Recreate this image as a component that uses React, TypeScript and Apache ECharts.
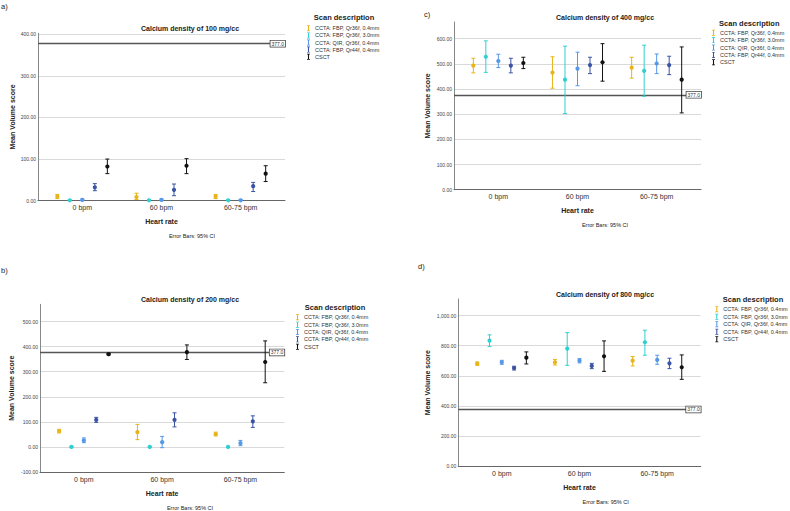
import React, { useEffect, useRef } from 'react';
import * as echarts from 'echarts';

// ---------- data ----------
const HEART_RATES = ['0 bpm', '60 bpm', '60-75 bpm'];
const SCANS = [
  'CCTA: FBP, Qr36f, 0.4mm',
  'CCTA: FBP, Qr36f, 3.0mm',
  'CCTA: QIR, Qr36f, 0.4mm',
  'CCTA: FBP, Qr44f, 0.4mm',
  'CSCT',
];
const SCAN_COLORS = ['#E8B418', '#2FD0CF', '#5598E7', '#3A53A4', '#111111'];
const REFERENCE_VOLUME = 377;

// rows = scans, columns = heart rates
const MEAN_100 = [[10, 9, 10], [1, 1, 1], [2, 2, 1], [32, 26, 35], [82, 84, 65]];
const LOW_100 = [[5, 3, 5], [0, 0, 0], [0, 0, 0], [24, 12, 22], [65, 65, 46]];
const HIGH_100 = [[15, 18, 15], [2, 2, 2], [4, 4, 3], [41, 40, 44], [100, 101, 84]];

const MEAN_200 = [[63, 59, 51], [0, 0, 0], [26, 19, 15], [108, 108, 102], [370, 378, 339]];
const LOW_200 = [[56, 29, 44], [-2, -2, -2], [17, -3, 5], [98, 80, 78], [367, 349, 256]];
const HIGH_200 = [[70, 90, 59], [2, 2, 2], [36, 42, 26], [118, 136, 124], [373, 407, 423]];

const MEAN_400 = [[493, 465, 485], [528, 437, 472], [511, 481, 501], [493, 495, 495], [503, 506, 437]];
const LOW_400 = [[464, 403, 443], [466, 302, 371], [485, 413, 461], [464, 461, 457], [481, 431, 305]];
const HIGH_400 = [[522, 528, 526], [591, 570, 574], [538, 546, 539], [522, 526, 530], [526, 580, 567]];

const MEAN_800 = [[681, 690, 701], [834, 781, 823], [690, 701, 706], [652, 666, 683], [721, 730, 657]];
const LOW_800 = [[670, 672, 666], [794, 670, 737], [677, 686, 677], [639, 648, 648], [679, 630, 577]];
const HIGH_800 = [[692, 708, 728], [872, 887, 903], [703, 714, 737], [664, 683, 717], [759, 832, 739]];

const Y_TICKS_100 = [0, 100, 200, 300, 400];
const Y_TICKS_200 = [-100, 0, 100, 200, 300, 400, 500];
const Y_TICKS_400 = [0, 100, 200, 300, 400, 500, 600];
const Y_TICKS_800 = [0, 200, 400, 600, 800, 1000];
const Y_MAX = [402, 569, 666, 1110];

// ---------- panels (layout) ----------
const PANELS = [
  {
    tag: 'a)', tagX: 1, tagY: 6, title: 'Calcium density of 100 mg/cc',
    mean: MEAN_100, low: LOW_100, high: HIGH_100, ticks: Y_TICKS_100, min: 0, max: Y_MAX[0],
    left: 38, top: 33.3, width: 247, height: 167.4,
    titleX: 190, titleY: 28.3, legendLeft: 307, legendTop: 25.3, legendGap: 1.1,
    legendTitleX: 344, legendTitleY: 17.3, noteX: 192, noteY: 236,
    yNameGap: 22.5, xNameGap: 17.5, labelMargin: 3,
  },
  {
    tag: 'c)', tagX: 424, tagY: 14, title: 'Calcium density of 400 mg/cc',
    mean: MEAN_400, low: LOW_400, high: HIGH_400, ticks: Y_TICKS_400, min: 0, max: Y_MAX[2],
    left: 454, top: 22, width: 247, height: 167.7,
    titleX: 605, titleY: 17.3, legendLeft: 712, legendTop: 29.7, legendGap: 1.4,
    legendTitleX: 749.3, legendTitleY: 23.3, noteX: 605, noteY: 225,
    yNameGap: 23, xNameGap: 17.5, labelMargin: 3,
  },
  {
    tag: 'b)', tagX: 1, tagY: 270, title: 'Calcium density of 200 mg/cc',
    mean: MEAN_200, low: LOW_200, high: HIGH_200, ticks: Y_TICKS_200, min: -100, max: Y_MAX[1],
    left: 40, top: 304.3, width: 244.3, height: 167.7,
    titleX: 190, titleY: 299.3, legendLeft: 296, legendTop: 314.3, legendGap: 1.35,
    legendTitleX: 335, legendTitleY: 307.3, noteX: 190, noteY: 507.7,
    yNameGap: 24.8, xNameGap: 18, labelMargin: 3.5,
  },
  {
    tag: 'd)', tagX: 418, tagY: 266, title: 'Calcium density of 800 mg/cc',
    mean: MEAN_800, low: LOW_800, high: HIGH_800, ticks: Y_TICKS_800, min: 0, max: Y_MAX[3],
    left: 458.3, top: 299, width: 242.4, height: 167.3,
    titleX: 605, titleY: 294, legendLeft: 715.3, legendTop: 306.3, legendGap: 1.5,
    legendTitleX: 753, legendTitleY: 299.7, noteX: 605.7, noteY: 502.3,
    yNameGap: 27.5, xNameGap: 18, labelMargin: 4,
  },
];

const SERIES_OFFSET = [-0.316, -0.158, 0, 0.158, 0.316];
const FONT = "'Liberation Sans', Arial, sans-serif";
const LEGEND_ICON = 'path://M0,0H5V1.2H0Z M1.6,0H3.4V10H1.6Z M0,8.8H5V10H0Z';

const fmtY = (v: number) =>
  Number(v).toLocaleString('en-US', { minimumFractionDigits: 2, maximumFractionDigits: 2 });

function makeRenderItem(scanIdx: number) {
  return (params: any, api: any) => {
    const cat = api.value(0);
    const pMean = api.coord([cat, api.value(1)]);
    const pLow = api.coord([cat, api.value(2)]);
    const pHigh = api.coord([cat, api.value(3)]);
    const band = api.size([1, 0])[0];
    const x = pMean[0] + SERIES_OFFSET[scanIdx] * band;
    const color = api.visual('color');
    const stroke = { stroke: color, lineWidth: 1 };
    return {
      type: 'group',
      children: [
        { type: 'line', shape: { x1: x, y1: pHigh[1], x2: x, y2: pLow[1] }, style: stroke },
        { type: 'line', shape: { x1: x - 2, y1: pHigh[1], x2: x + 2, y2: pHigh[1] }, style: stroke },
        { type: 'line', shape: { x1: x - 2, y1: pLow[1], x2: x + 2, y2: pLow[1] }, style: stroke },
        { type: 'circle', shape: { cx: x, cy: pMean[1], r: 2.1 }, style: { fill: color } },
      ],
    };
  };
}

function buildOption() {
  const grid: any[] = [];
  const xAxis: any[] = [];
  const yAxis: any[] = [];
  const legend: any[] = [];
  const series: any[] = [];
  const graphic: any[] = [];

  PANELS.forEach((p, i) => {
    grid.push({ left: p.left, top: p.top, width: p.width, height: p.height });
    xAxis.push({
      gridIndex: i,
      type: 'value',
      min: -0.56,
      max: 2.56,
      axisLine: { show: true, onZero: false, lineStyle: { color: '#666', width: 1 } },
      axisTick: { show: false },
      splitLine: { show: false },
      axisLabel: {
        customValues: [0, 1, 2],
        formatter: (v: number) => HEART_RATES[Math.round(v)],
        fontSize: 7,
        color: '#333',
        margin: p.labelMargin,
        fontFamily: FONT,
      },
      name: 'Heart rate',
      nameLocation: 'middle',
      nameGap: p.xNameGap,
      nameTextStyle: { fontWeight: 'bold', fontSize: 7, color: '#222', fontFamily: FONT },
    });
    yAxis.push({
      gridIndex: i,
      type: 'value',
      min: p.min,
      max: p.max,
      axisLine: { show: true, onZero: false, lineStyle: { color: '#888', width: 1 } },
      axisTick: { show: false, customValues: p.ticks },
      axisLabel: {
        customValues: p.ticks,
        formatter: (v: number) => fmtY(v),
        fontSize: 5,
        color: '#444',
        margin: 2,
        fontFamily: FONT,
      },
      splitLine: { show: true, lineStyle: { color: '#d9d9d9', width: 1 } },
      name: 'Mean Volume score',
      nameLocation: 'middle',
      nameGap: p.yNameGap,
      nameTextStyle: { fontWeight: 'bold', fontSize: 7, color: '#222', fontFamily: FONT },
    });
    legend.push({
      orient: 'vertical',
      left: p.legendLeft,
      top: p.legendTop,
      padding: 0,
      itemWidth: 3,
      itemHeight: 6,
      itemGap: p.legendGap,
      selectedMode: false,
      data: SCANS.map((name) => ({ name, icon: LEGEND_ICON })),
      textStyle: { fontSize: 5.5, lineHeight: 6, color: '#333', fontFamily: FONT },
    });
    SCANS.forEach((name, s) => {
      const data = HEART_RATES.map((_, c) => [c, p.mean[s][c], p.low[s][c], p.high[s][c]]);
      const ser: any = {
        type: 'custom',
        name,
        xAxisIndex: i,
        yAxisIndex: i,
        itemStyle: { color: SCAN_COLORS[s] },
        encode: { x: 0, y: 1 },
        clip: false,
        renderItem: makeRenderItem(s),
        data,
        z: 3,
      };
      if (s === 0) {
        ser.markLine = {
          silent: true,
          symbol: ['none', 'none'],
          z: 2,
          lineStyle: { color: '#555', width: 1.3, type: 'solid' },
          label: {
            show: true,
            position: 'insideEnd',
            distance: 0,
            formatter: REFERENCE_VOLUME.toFixed(1),
            fontSize: 5,
            color: '#333',
            backgroundColor: '#fff',
            borderColor: '#444',
            borderWidth: 0.8,
            padding: [0.5, 1],
            fontFamily: FONT,
          },
          data: [{ yAxis: REFERENCE_VOLUME }],
        };
      }
      series.push(ser);
    });

    const txt = (text: string, x: number, y: number, size: number, bold: boolean, align = 'center') => ({
      type: 'text',
      x,
      y,
      style: {
        text,
        fontSize: size,
        fontWeight: bold ? 'bold' : 'normal',
        fontFamily: FONT,
        fill: '#222',
        align,
        verticalAlign: 'middle',
      },
    });
    graphic.push(txt(p.tag, p.tagX, p.tagY, 7.5, false, 'left'));
    graphic.push(txt(p.title, p.titleX, p.titleY, 7, true));
    graphic.push(txt('Scan description', p.legendTitleX, p.legendTitleY, 7.5, true));
    graphic.push(txt('Error Bars: 95% CI', p.noteX, p.noteY, 5.5, false));
  });

  return {
    animation: false,
    backgroundColor: '#ffffff',
    textStyle: { fontFamily: FONT },
    grid,
    xAxis,
    yAxis,
    legend,
    series,
    graphic,
  };
}

export default function App() {
  const ref = useRef<HTMLDivElement>(null);
  useEffect(() => {
    if (!ref.current) return;
    const chart = echarts.init(ref.current, undefined, { renderer: 'svg' });
    chart.setOption(buildOption() as any);
    return () => chart.dispose();
  }, []);
  return (
    <div
      ref={ref}
      style={{ position: 'absolute', left: 0, top: 0, width: 790, height: 511, background: '#fff' }}
    />
  );
}
